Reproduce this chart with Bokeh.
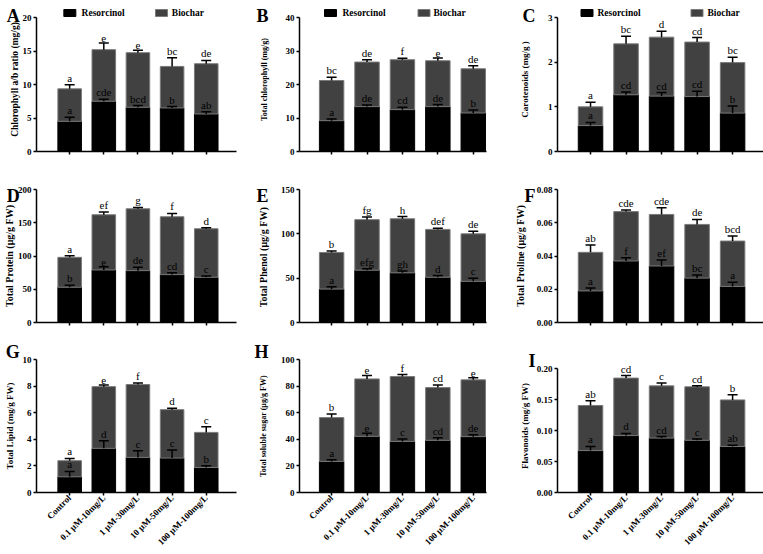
import math
from bokeh.plotting import figure
from bokeh.layouts import gridplot
from bokeh.models import (ColumnDataSource, Range1d, FixedTicker, Whisker, TeeHead,
                          Label, NumeralTickFormatter, BasicTickFormatter)
from bokeh.core.properties import value
from bokeh.embed import file_html
from bokeh.resources import INLINE

# ---------------- data ----------------
categories = ["Control", "0.1 μM-10mg/L", "1 μM-30mg/L", "10 μM-50mg/L", "100 μM-100mg/L"]
series_names = ["Resorcinol", "Biochar"]

# A  Chlorophyll a/b ratio
a_res = [4.5, 7.5, 6.6, 6.5, 5.6]
a_res_err = [0.6, 0.3, 0.25, 0.2, 0.35]
a_bio = [4.85, 7.7, 8.15, 6.2, 7.5]
a_tot_err = [0.6, 1.0, 0.35, 1.3, 0.5]
a_res_let = ["a", "cde", "bcd", "b", "ab"]
a_tot_let = ["a", "e", "e", "bc", "de"]
a_ticks = [0, 5, 10, 15, 20]

# B  Total chlorophyll
b_res = [9.2, 13.4, 12.5, 13.4, 11.5]
b_res_err = [0.5, 0.5, 0.7, 0.6, 0.9]
b_bio = [12.0, 13.3, 14.9, 13.7, 13.2]
b_tot_err = [1.0, 0.7, 0.4, 0.8, 0.9]
b_res_let = ["a", "de", "cd", "de", "b"]
b_tot_let = ["bc", "de", "f", "e", "de"]
b_ticks = [0, 10, 20, 30, 40]

# C  Carotenoids
c_res = [0.58, 1.27, 1.24, 1.23, 0.86]
c_res_err = [0.07, 0.06, 0.08, 0.12, 0.16]
c_bio = [0.42, 1.14, 1.32, 1.22, 1.13]
c_tot_err = [0.1, 0.17, 0.13, 0.1, 0.12]
c_res_let = ["a", "cd", "cd", "cd", "b"]
c_tot_let = ["a", "bc", "d", "cd", "bc"]
c_ticks = [0, 1, 2, 3]

# D  Total Protein
d_res = [53, 79, 78, 72, 68]
d_res_err = [3, 5, 5, 3, 2]
d_bio = [45, 83, 93, 87, 73]
d_tot_err = [2.5, 4, 2, 5, 1.5]
d_res_let = ["b", "e", "de", "cd", "c"]
d_tot_let = ["a", "ef", "g", "f", "d"]
d_ticks = [0, 50, 100, 150, 200]

# E  Total Phenol
e_res = [37.7, 59, 56, 51, 46.4]
e_res_err = [2.5, 1.7, 2, 2, 3.5]
e_bio = [41.3, 57, 61, 54, 53.6]
e_tot_err = [1.5, 3, 2.5, 1.3, 3]
e_res_let = ["a", "efg", "gh", "d", "c"]
e_tot_let = ["b", "fg", "h", "def", "de"]
e_ticks = [0, 50, 100, 150]

# F  Total Proline
f_res = [0.019, 0.037, 0.034, 0.0267, 0.0217]
f_res_err = [0.0017, 0.002, 0.0036, 0.0018, 0.0025]
f_bio = [0.0232, 0.0297, 0.031, 0.0323, 0.0273]
f_tot_err = [0.0044, 0.001, 0.004, 0.003, 0.003]
f_res_let = ["a", "f", "ef", "bc", "a"]
f_tot_let = ["ab", "cde", "cde", "de", "bcd"]
f_ticks = [0, 0.02, 0.04, 0.06, 0.08]

# G  Total Lipid
g_res = [1.18, 3.32, 2.64, 2.59, 1.88]
g_res_err = [0.4, 0.58, 0.5, 0.6, 0.13]
g_bio = [1.21, 4.64, 5.48, 3.64, 2.64]
g_tot_err = [0.17, 0.13, 0.12, 0.1, 0.43]
g_res_let = ["a", "d", "c", "c", "b"]
g_tot_let = ["a", "e", "f", "d", "c"]
g_ticks = [0, 2, 4, 6, 8, 10]

# H  Total soluble sugar
h_res = [23.4, 42.2, 38.4, 39.2, 42.0]
h_res_err = [1.2, 2.3, 1.8, 2.0, 1.5]
h_bio = [32.9, 43.2, 48.8, 39.7, 42.7]
h_tot_err = [2.7, 2.6, 1.5, 2.0, 1.5]
h_res_let = ["a", "e", "c", "cd", "de"]
h_tot_let = ["b", "e", "f", "cd", "e"]
h_ticks = [0, 20, 40, 60, 80, 100]

# I  Flavonoids
i_res = [0.0678, 0.092, 0.088, 0.0844, 0.0744]
i_res_err = [0.0066, 0.0035, 0.0025, 0.002, 0.002]
i_bio = [0.0729, 0.093, 0.0844, 0.0865, 0.0753]
i_tot_err = [0.0075, 0.004, 0.0045, 0.0015, 0.0085]
i_res_let = ["a", "d", "cd", "c", "ab"]
i_tot_let = ["ab", "cd", "c", "cd", "b"]
i_ticks = [0, 0.05, 0.10, 0.15, 0.20]

# ---------------- style / layout ----------------
SERIF = "Liberation Serif"
BLACK = "#000000"
GRAY = "#414141"
EDGE = "#7a7a7a"

col_w = [250, 250, 263]
row_h = [168, 169, 217]
col_border = [(32, 14), (49, 14), (57, 0)]
row_bottom = [17, 15, 62]
top_tick_y = [17, 21, 22]            # canvas px of the top tick in each row
col_xrange = [(0.029, 5.886), (0.093, 5.374), (0.07, 5.87)]
letter_rx = [15, 18, 35]             # canvas px, right edge of panel letter
letter_cy = [15, 27, 14]             # canvas px, baseline of panel letter
legend_cy = 12.5                     # canvas px, centre of legend row
# (square centre x, text start x) in canvas px for each series
legend_geo = [[(66, 78), (159.5, 170)],
              [(80, 92), (173.5, 183)],
              [(86.5, 97), (196.5, 207)]]


def panel(r, c, letter, ylabel, ylab_size, ylab_standoff, ticks, fmt,
          res, res_err, bio, tot_err, res_let, tot_let, headroom=0):
    lb, rb = col_border[c]
    tb = top_tick_y[r] - headroom
    bb = row_bottom[r]
    fw = col_w[c] - lb - rb
    fh = row_h[r] - tb - bb
    x0, x1 = col_xrange[c]
    y0 = ticks[0]
    y1 = ticks[-1] * fh / (fh - headroom)

    def to_data(cx, cy):
        return (x0 + (cx - lb) * (x1 - x0) / fw,
                y0 + (tb + fh - cy) * (y1 - y0) / fh)

    p = figure(width=col_w[c], height=row_h[r], output_backend="svg",
               toolbar_location=None,
               x_range=Range1d(x0, x1), y_range=Range1d(y0, y1),
               min_border_left=lb, min_border_right=rb,
               min_border_top=tb, min_border_bottom=bb)
    p.outline_line_color = None
    p.grid.visible = False
    p.background_fill_color = "white"
    p.border_fill_color = "white"

    xs = [i + 1 for i in range(len(categories))]
    tot = [a + b for a, b in zip(res, bio)]
    src = ColumnDataSource(dict(
        x=xs, res=res, bio=bio, tot=tot,
        res_hi=[v + e for v, e in zip(res, res_err)],
        tot_hi=[v + e for v, e in zip(tot, tot_err)],
        res_let=res_let, tot_let=tot_let))

    p.vbar_stack(["res", "bio"], x="x", width=0.69, source=src,
                 fill_color=[BLACK, GRAY], line_color=[BLACK, EDGE], line_width=1)

    for lo, hi in (("res", "res_hi"), ("tot", "tot_hi")):
        w = Whisker(source=src, base="x", lower=lo, upper=hi, dimension="height",
                    line_color="black", line_width=1.5,
                    upper_head=TeeHead(size=10, line_color="black", line_width=1.5),
                    lower_head=None, level="overlay")
        p.add_layout(w)

    for ycol, tcol in (("res_hi", "res_let"), ("tot_hi", "tot_let")):
        p.text(x="x", y=ycol, text=tcol, source=src, text_font=value(SERIF),
               text_font_size=value("11px"), text_align="center",
               text_baseline="bottom", y_offset=-1, text_color="black")

    xa = p.xaxis[0]
    xa.ticker = FixedTicker(ticks=xs, minor_ticks=[])
    if r == 2:
        xa.major_label_overrides = {x: cat for x, cat in zip(xs, categories)}
        xa.major_label_orientation = math.pi / 4
        xa.major_label_standoff = 1
    else:
        xa.major_label_overrides = {x: "" for x in xs}
        xa.major_label_standoff = 0
    xa.major_tick_out = 3
    xa.major_tick_in = 0
    xa.minor_tick_out = 0
    xa.minor_tick_in = 0
    xa.axis_line_width = 1.5
    xa.major_tick_line_width = 1.5
    xa.major_label_text_font = SERIF
    xa.major_label_text_font_style = "bold"
    xa.major_label_text_font_size = "9px"
    xa.major_label_text_color = "black"

    ya = p.yaxis[0]
    ya.ticker = FixedTicker(ticks=ticks, minor_ticks=[])
    ya.bounds = (ticks[0], ticks[-1])
    ya.formatter = fmt
    ya.axis_label = ylabel
    ya.axis_label_text_font = SERIF
    ya.axis_label_text_font_style = "bold"
    ya.axis_label_text_font_size = ylab_size
    ya.axis_label_text_color = "black"
    ya.axis_label_standoff = int(ylab_standoff)
    ya.major_tick_out = 3
    ya.major_tick_in = 0
    ya.minor_tick_out = 0
    ya.minor_tick_in = 0
    ya.major_label_standoff = 2
    ya.axis_line_width = 1.5
    ya.major_tick_line_width = 1.5
    ya.major_label_text_font = SERIF
    ya.major_label_text_font_style = "bold"
    ya.major_label_text_font_size = "9px"
    ya.major_label_text_color = "black"

    if r == 0:
        fills = [BLACK, GRAY]
        edges = [BLACK, EDGE]
        for k, name in enumerate(series_names):
            sqx, tx = legend_geo[c][k]
            xd, yd = to_data(sqx, legend_cy)
            p.rect(x=[xd], y=[yd], width=12, height=7, width_units="screen",
                   height_units="screen", fill_color=fills[k], line_color=edges[k],
                   line_width=1)
            xt, _ = to_data(tx, legend_cy)
            p.text(x=[xt], y=[yd], text=[name], text_font=value(SERIF),
                   text_font_style="bold", text_font_size=value("9.5px"),
                   text_baseline="middle", text_align="left", text_color="black")

    lx, ly = to_data(letter_rx[c], letter_cy[r])
    lab = Label(x=lx, y=ly, x_units="data", y_units="data",
                text=letter, text_font=SERIF, text_font_style="bold",
                text_font_size="18px", text_baseline="alphabetic",
                text_align="right", text_color="black")
    p.add_layout(lab, "left" if c == 2 else "right")
    return p


pA = panel(0, 0, "A", "Chlorophyll a/b ratio (mg/g)", "9.5px", 0, a_ticks, BasicTickFormatter(),
           a_res, a_res_err, a_bio, a_tot_err, a_res_let, a_tot_let, headroom=10)
pB = panel(0, 1, "B", "Total chlorophyll (mg/g)", "8px", 14, b_ticks, BasicTickFormatter(),
           b_res, b_res_err, b_bio, b_tot_err, b_res_let, b_tot_let, headroom=10)
pC = panel(0, 2, "C", "Carotenoids (mg/g )", "9px", 15, c_ticks, BasicTickFormatter(),
           c_res, c_res_err, c_bio, c_tot_err, c_res_let, c_tot_let, headroom=10)
pD = panel(1, 0, "D", "Total Protein (μg/g FW)", "10px", 0, d_ticks, BasicTickFormatter(),
           d_res, d_res_err, d_bio, d_tot_err, d_res_let, d_tot_let)
pE = panel(1, 1, "E", "Total Phenol  (μg/g FW)", "10px", 9, e_ticks, BasicTickFormatter(),
           e_res, e_res_err, e_bio, e_tot_err, e_res_let, e_tot_let)
pF = panel(1, 2, "F", "Total Proline (μg/g FW)", "10px", 8, f_ticks, NumeralTickFormatter(format="0.00"),
           f_res, f_res_err, f_bio, f_tot_err, f_res_let, f_tot_let)
pG = panel(2, 0, "G", "Total Lipid (mg/g FW)", "9px", 5, g_ticks, BasicTickFormatter(),
           g_res, g_res_err, g_bio, g_tot_err, g_res_let, g_tot_let)
pH = panel(2, 1, "H", "Total soluble sugar (μg/g FW)", "8px", 10, h_ticks, BasicTickFormatter(),
           h_res, h_res_err, h_bio, h_tot_err, h_res_let, h_tot_let)
pI = panel(2, 2, "I", "Flavonoids (mg/g FW)", "9px", 4, i_ticks, NumeralTickFormatter(format="0.00"),
           i_res, i_res_err, i_bio, i_tot_err, i_res_let, i_tot_let, headroom=10)

grid = gridplot([[pA, pB, pC], [pD, pE, pF], [pG, pH, pI]], toolbar_location=None)

open("out.html", "w").write(file_html(grid, INLINE))
